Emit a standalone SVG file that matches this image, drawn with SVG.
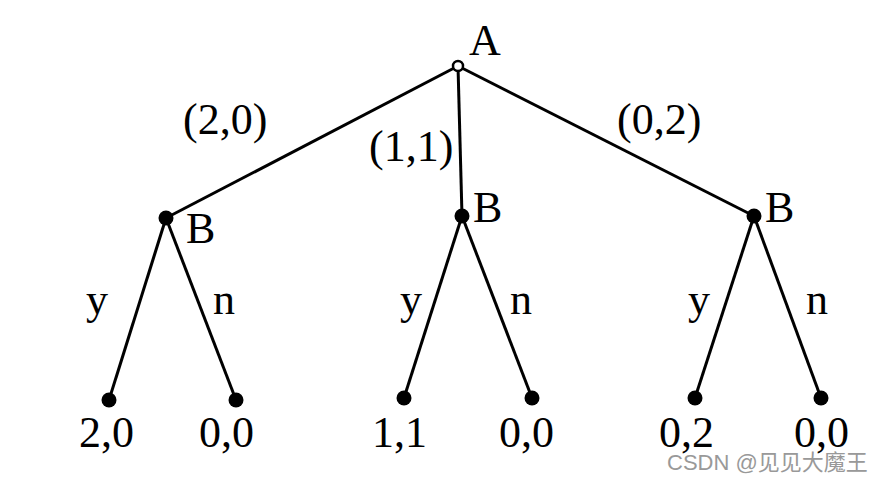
<svg xmlns="http://www.w3.org/2000/svg" width="881" height="480" viewBox="0 0 881 480">
<style>
.e{stroke:#000;stroke-width:3;fill:none}
.d{fill:#000}
.t{font-family:"Liberation Serif",serif;font-size:44px;fill:#000}
.w{font-family:"Liberation Sans","Noto Sans CJK SC",sans-serif;font-size:22px;fill:#999}
</style>
<rect width="881" height="480" fill="#fff"/>
<g id="connectors">
<line class="e" x1="458" y1="66" x2="166" y2="218"/>
<line class="e" x1="458" y1="66" x2="462" y2="216"/>
<line class="e" x1="458" y1="66" x2="754" y2="216"/>
<line class="e" x1="166" y1="218" x2="109" y2="400"/>
<line class="e" x1="166" y1="218" x2="236" y2="400"/>
<line class="e" x1="462" y1="216" x2="404" y2="398"/>
<line class="e" x1="462" y1="216" x2="532" y2="398"/>
<line class="e" x1="754" y1="216" x2="695" y2="398"/>
<line class="e" x1="754" y1="216" x2="821" y2="398"/>
</g>
<g id="edge-labels">
<text class="t" x="183" y="134">(2,0)</text>
<text class="t" x="369" y="161">(1,1)</text>
<text class="t" x="617" y="134">(0,2)</text>
<text class="t" x="86" y="314">y</text>
<text class="t" x="213" y="314">n</text>
<text class="t" x="400" y="314">y</text>
<text class="t" x="510" y="314">n</text>
<text class="t" x="688" y="314">y</text>
<text class="t" x="806" y="314">n</text>
</g>
<g id="A"><circle cx="458" cy="66" r="5" fill="#fff" stroke="#000" stroke-width="2.5"/><text class="t" x="469" y="55">A</text></g>
<g id="B1"><circle class="d" cx="166" cy="218" r="7.5"/><text class="t" x="186" y="243">B</text></g>
<g id="B2"><circle class="d" cx="462" cy="216" r="7.5"/><text class="t" x="473" y="222">B</text></g>
<g id="B3"><circle class="d" cx="754" cy="216" r="7.5"/><text class="t" x="765" y="222">B</text></g>
<g id="L1"><circle class="d" cx="109" cy="400" r="7.5"/><text class="t" x="79" y="447">2,0</text></g>
<g id="L2"><circle class="d" cx="236" cy="400" r="7.5"/><text class="t" x="199" y="447">0,0</text></g>
<g id="L3"><circle class="d" cx="404" cy="398" r="7.5"/><text class="t" x="372" y="447">1,1</text></g>
<g id="L4"><circle class="d" cx="532" cy="398" r="7.5"/><text class="t" x="499" y="447">0,0</text></g>
<g id="L5"><circle class="d" cx="695" cy="398" r="7.5"/><text class="t" x="659" y="447">0,2</text></g>
<g id="L6"><circle class="d" cx="821" cy="398" r="7.5"/><text class="t" x="794" y="447">0,0</text></g>
<text class="w" x="667" y="470">CSDN @见见大魔王</text>
</svg>
